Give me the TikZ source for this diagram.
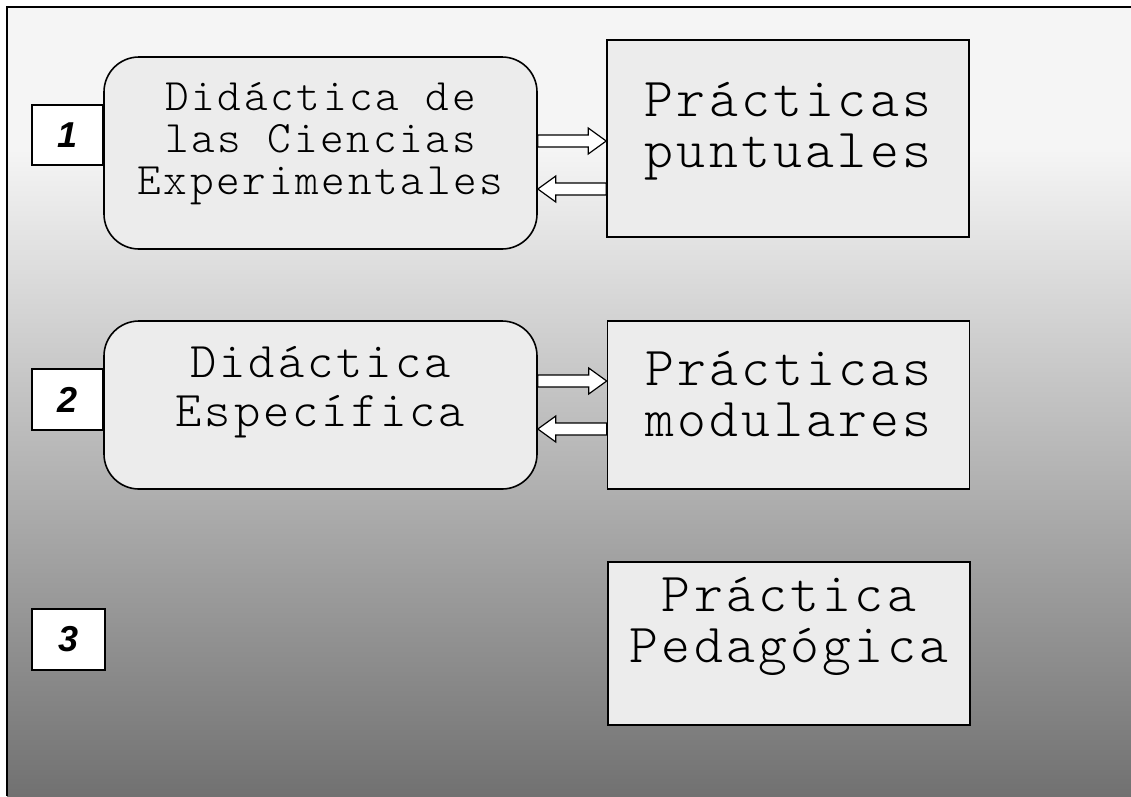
\documentclass[tikz,border=0pt]{standalone}
\usepackage{fontspec}
\usepackage{tikz}
\usepackage{xcolor}
\usetikzlibrary{positioning, calc}
\newfontfamily\numfont{Liberation Sans}
\newfontfamily\courfont{lmmonolt10-regular.otf}[LetterSpace=6]
\newcommand\boxfont[2]{\courfont\fontsize{#1}{#2}\selectfont}
\definecolor{stone}{HTML}{ECECEC}
\definecolor{paper}{HTML}{F5F5F5}
\definecolor{dusk}{HTML}{717171}

\begin{document}
\begin{tikzpicture}[x=1pt,y=-1pt,line width=1.6pt,
  rbox/.style={draw,fill=stone,rounded corners=35pt,minimum width=433pt},
  pbox/.style={draw,fill=stone,minimum width=362pt},
  boxtext/.style={align=center,font=\boxfont{55}{51}},
  numbox/.style={draw,fill=white,minimum width=71pt,minimum height=60pt,font=\numfont\bfseries\itshape\fontsize{36}{36}\selectfont},
  fatarrow/.style={draw,line width=1.2pt,fill=white,
    to path={let \p1=(\tikztostart), \p2=(\tikztotarget), \p3=($(\tikztotarget)!18pt!(\tikztostart)$) in
      (\x1,\y1+6pt) -- (\x3,\y1+6pt) -- (\x3,\y1+13pt) -- (\x2,\y2) -- (\x3,\y1-13pt) -- (\x3,\y1-6pt) -- (\x1,\y1-6pt) -- cycle}}]
  \useasboundingbox (0,0) rectangle (1131,796);
  % background
  \fill[paper] (7,7) rectangle (1131,150);
  \shade[top color=paper,bottom color=dusk,draw=none] (7,149) rectangle (1131,796);
  \draw[line width=2pt] (7,796) -- (7,7) -- (1131,7);
  % row 1
  \node[rbox,minimum height=192pt,label={[boxtext,font=\boxfont{45}{42},yshift=9pt]center:Didáctica de\\las Ciencias\\Experimentales}] (dce) at (320.5,153) {};
  \node[pbox,minimum height=197pt,label={[boxtext,yshift=7pt]center:Prácticas\\puntuales}] (ppu) at (788,138.5) {};
  \node[numbox] (n1) at (67.5,135) {1};
  % row 2
  \node[rbox,minimum height=168pt,label={[boxtext,font=\boxfont{50}{49},yshift=13pt]center:Didáctica\\Específica}] (des) at (320.5,405) {};
  \node[pbox,minimum height=168pt,label={[boxtext,yshift=11pt]center:Prácticas\\modulares}] (pmo) at (788.5,405) {};
  \node[numbox,minimum height=61pt] (n2) at (67.5,399.5) {2};
  % row 3
  \node[pbox,minimum height=163pt,label={[boxtext,yshift=17pt]center:Práctica\\Pedagógica}] (ppe) at (789,643.5) {};
  \node[numbox,minimum height=61pt,minimum width=73pt] (n3) at (68.5,639.5) {3};
  % arrows
  \draw[fatarrow] ([yshift=12pt]dce.east) to ([yshift=12pt]dce.east -| ppu.west);
  \draw[fatarrow] ([yshift=-36pt]dce.east -| ppu.west) to ([yshift=-36pt]dce.east);
  \draw[fatarrow] ([yshift=24pt]des.east) to ([yshift=24pt]des.east -| pmo.west);
  \draw[fatarrow] ([yshift=-24pt]des.east -| pmo.west) to ([yshift=-24pt]des.east);
\end{tikzpicture}
\end{document}
